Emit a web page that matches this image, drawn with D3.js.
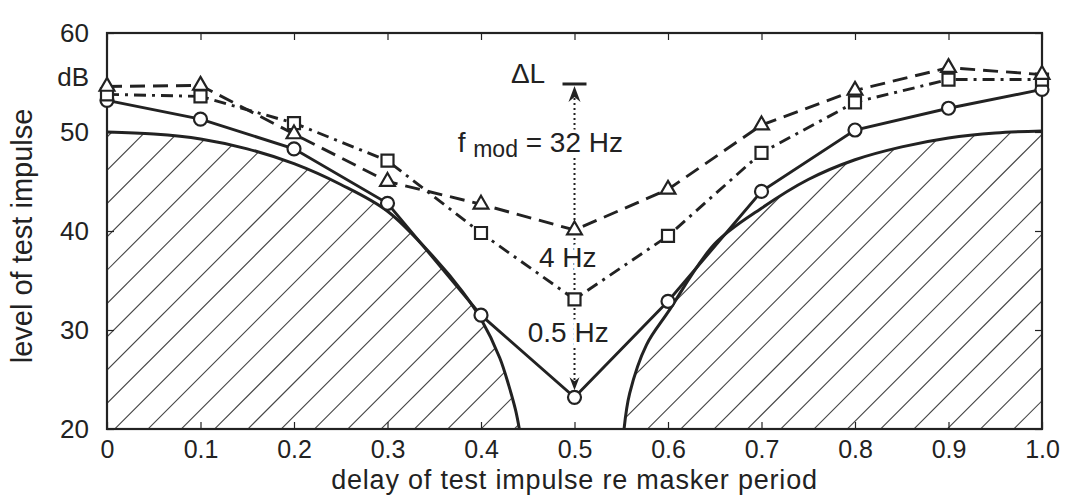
<!DOCTYPE html>
<meta charset="utf-8">
<style>
    body { margin: 0; background: #fff; }
    text { font-family: 'Liberation Sans', Arial, sans-serif; fill: #222; }
</style>

<!-- Load d3.js -->
<script src="https://d3js.org/d3.v7.min.js"></script>

<div id="my_dataviz"></div>

<script>

// delay of test impulse (x) and the three measured curves
var delays = [0, 0.1, 0.2, 0.3, 0.4, 0.5, 0.6, 0.7, 0.8, 0.9, 1.0];
var level05Hz = [53.2, 51.3, 48.3, 42.8, 31.5, 23.2, 32.9, 44.0, 50.2, 52.4, 54.3];
var level4Hz  = [53.8, 53.6, 50.9, 47.1, 39.8, 33.1, 39.5, 47.9, 53.0, 55.3, 55.3];
var level32Hz = [54.6, 54.7, 49.8, 45.0, 42.7, 40.1, 44.2, 50.7, 54.2, 56.5, 55.8];

// masked threshold (hatched area), left and right branch
var leftDelay  = [0, 0.05, 0.1, 0.15, 0.2, 0.25, 0.3, 0.35, 0.38, 0.4, 0.42, 0.43, 0.437, 0.441];
var leftLevel  = [50.0, 49.8, 49.3, 48.3, 46.8, 44.7, 42.0, 37.3, 33.9, 31.1, 27.2, 24.3, 21.9, 20];
var rightDelay = [0.553, 0.559, 0.577, 0.6, 0.65, 0.7, 0.75, 0.8, 0.85, 0.9, 0.95, 1.0];
var rightLevel = [20, 23.6, 28.5, 31.8, 38.7, 42.3, 45.2, 47.2, 48.5, 49.4, 49.9, 50.1];

// tick labels
var xTicks = [0, 0.1, 0.2, 0.3, 0.4, 0.5, 0.6, 0.7, 0.8, 0.9, 1.0];
var xTickLabels = ["0", "0.1", "0.2", "0.3", "0.4", "0.5", "0.6", "0.7", "0.8", "0.9", "1.0"];
var yTicks = [20, 30, 40, 50, 60];
var yTickLabels = ["20", "30", "40", "50", "60"];

// set the dimensions and margins of the graph
var margin = {top: 33, right: 23, bottom: 66, left: 107},
    width = 1065 - margin.left - margin.right,
    height = 495 - margin.top - margin.bottom;

var ink = "#222";

var svg = d3.select("#my_dataviz")
  .append("svg")
    .attr("width", width + margin.left + margin.right)
    .attr("height", height + margin.top + margin.bottom)
  .append("g")
    .attr("transform", "translate(" + margin.left + "," + margin.top + ")");

var x = d3.scaleLinear().domain([0, 1]).range([0, width]);
var y = d3.scaleLinear().domain([20, 60]).range([height, 0]);

function pts(xa, ya) {
  return xa.map(function(d, i) { return [d, ya[i]]; });
}

// hatched areas under the threshold curves
var area = d3.area()
  .x(function(d) { return x(d[0]); })
  .y0(y(20))
  .y1(function(d) { return y(d[1]); })
  .curve(d3.curveCatmullRom);

var clip = svg.append("clipPath").attr("id", "hatchClip");
clip.append("path").attr("d", area(pts(leftDelay, leftLevel)));
clip.append("path").attr("d", area(pts(rightDelay, rightLevel)));

var hatch = svg.append("g").attr("clip-path", "url(#hatchClip)");
var hatchStep = 33.3;
for (var c = 437 - 20 * hatchStep; c < width + height + hatchStep; c += hatchStep) {
  hatch.append("line")
    .attr("x1", 0).attr("y1", c)
    .attr("x2", width).attr("y2", c - width)
    .attr("stroke", "#444")
    .attr("stroke-width", 1.1);
}

// threshold curves
var curveLine = d3.line()
  .x(function(d) { return x(d[0]); })
  .y(function(d) { return y(d[1]); })
  .curve(d3.curveCatmullRom);

[pts(leftDelay, leftLevel), pts(rightDelay, rightLevel)].forEach(function(p) {
  svg.append("path")
    .attr("d", curveLine(p))
    .attr("fill", "none")
    .attr("stroke", ink)
    .attr("stroke-width", 3);
});

// axes: inside ticks on all four sides
var xAxis = svg.append("g")
  .attr("transform", "translate(0," + height + ")")
  .call(d3.axisBottom(x).tickValues(xTicks)
    .tickFormat(function(d, i) { return xTickLabels[i]; })
    .tickSizeInner(-7).tickSizeOuter(0).tickPadding(11));
var yAxis = svg.append("g")
  .call(d3.axisLeft(y).tickValues(yTicks)
    .tickFormat(function(d, i) { return yTickLabels[i]; })
    .tickSizeInner(-7).tickSizeOuter(0).tickPadding(18));
svg.append("g")
  .call(d3.axisTop(x).tickValues(xTicks).tickFormat("").tickSizeInner(-7).tickSizeOuter(0));
svg.append("g")
  .attr("transform", "translate(" + width + ",0)")
  .call(d3.axisRight(y).tickValues(yTicks).tickFormat("").tickSizeInner(-7).tickSizeOuter(0));

svg.selectAll(".domain").remove();
svg.selectAll(".tick line").attr("stroke", ink).attr("stroke-width", 1.2);
xAxis.selectAll(".tick text").style("font-size", "25px").attr("fill", ink);
yAxis.selectAll(".tick text").style("font-size", "26px").attr("fill", ink);

// unit label in the y tick column
svg.append("text")
  .attr("x", -18)
  .attr("y", y(55.6))
  .attr("dy", "0.35em")
  .attr("text-anchor", "end")
  .style("font-size", "26px")
  .text("dB");

// frame
svg.append("rect")
  .attr("width", width).attr("height", height)
  .attr("fill", "none")
  .attr("stroke", ink)
  .attr("stroke-width", 2.2);

// axis titles
svg.append("text")
  .attr("x", x(0.5))
  .attr("y", height + 60)
  .attr("text-anchor", "middle")
  .style("font-size", "27px")
  .style("letter-spacing", "0.8px")
  .text("delay of test impulse re masker period");

svg.append("text")
  .attr("transform", "rotate(-90)")
  .attr("x", -(y(39.5)))
  .attr("y", -75)
  .attr("text-anchor", "middle")
  .style("font-size", "29px")
  .text("level of test impulse");

// delta L marker: dotted double arrow at delay 0.5
var xm = x(0.5);
var topY = y(54.85);
var botY = y(level05Hz[5]) - 7;

svg.append("line")
  .attr("x1", xm - 12).attr("x2", xm + 12)
  .attr("y1", topY).attr("y2", topY)
  .attr("stroke", ink).attr("stroke-width", 3);
svg.append("line")
  .attr("x1", xm).attr("x2", xm)
  .attr("y1", topY + 14).attr("y2", botY - 10)
  .attr("stroke", ink).attr("stroke-width", 2)
  .attr("stroke-dasharray", "2,3");
svg.append("path")
  .attr("d", "M" + xm + "," + (topY + 2) + "L" + (xm - 6) + "," + (topY + 18) +
             "L" + xm + "," + (topY + 13) + "L" + (xm + 6) + "," + (topY + 18) + "Z")
  .attr("fill", ink);
svg.append("path")
  .attr("d", "M" + xm + "," + botY + "L" + (xm - 5) + "," + (botY - 13) +
             "L" + xm + "," + (botY - 9) + "L" + (xm + 5) + "," + (botY - 13) + "Z")
  .attr("fill", ink);

// the three measured lines
var line = d3.line()
  .x(function(d) { return x(d[0]); })
  .y(function(d) { return y(d[1]); });

var series = [
  {values: level05Hz, dash: null, symbol: "circle"},
  {values: level4Hz, dash: "12,6,3,6", symbol: "square"},
  {values: level32Hz, dash: "15,8", symbol: "triangle"}
];

series.forEach(function(s) {
  svg.append("path")
    .attr("d", line(pts(delays, s.values)))
    .attr("fill", "none")
    .attr("stroke", ink)
    .attr("stroke-width", 2.9)
    .attr("stroke-dasharray", s.dash);
});

series.forEach(function(s) {
  var sym = s.symbol === "circle" ? d3.symbol().type(d3.symbolCircle).size(Math.PI * 6.5 * 6.5)
          : s.symbol === "square" ? d3.symbol().type(d3.symbolSquare).size(144)
          : d3.symbol().type(d3.symbolTriangle).size(95);
  svg.selectAll(".m-" + s.symbol)
    .data(pts(delays, s.values))
    .enter()
    .append("path")
      .attr("class", "m-" + s.symbol)
      .attr("transform", function(d) { return "translate(" + x(d[0]) + "," + y(d[1]) + ")"; })
      .attr("d", sym)
      .attr("fill", "#fff")
      .attr("stroke", ink)
      .attr("stroke-width", 2.2);
});

// annotations (white halo breaks the dotted line like in the figure)
function note(t) {
  return t.attr("stroke", "#fff")
    .attr("stroke-width", 7)
    .attr("paint-order", "stroke")
    .style("font-size", "28px");
}

note(svg.append("text")
  .attr("x", x(0.432))
  .attr("y", y(54.95)))
  .attr("stroke-width", 0)
  .text("\u0394L");

var fm = note(svg.append("text")
  .attr("x", x(0.375))
  .attr("y", y(47.95)));
fm.append("tspan").text("f ");
fm.append("tspan").attr("dy", 5).style("font-size", "23px").text("mod");
fm.append("tspan").attr("dy", -5).text(" = 32 Hz");

note(svg.append("text")
  .attr("x", x(0.462))
  .attr("y", y(36.4)))
  .text("4 Hz");

note(svg.append("text")
  .attr("x", x(0.450))
  .attr("y", y(28.8)))
  .text("0.5 Hz");

</script>
